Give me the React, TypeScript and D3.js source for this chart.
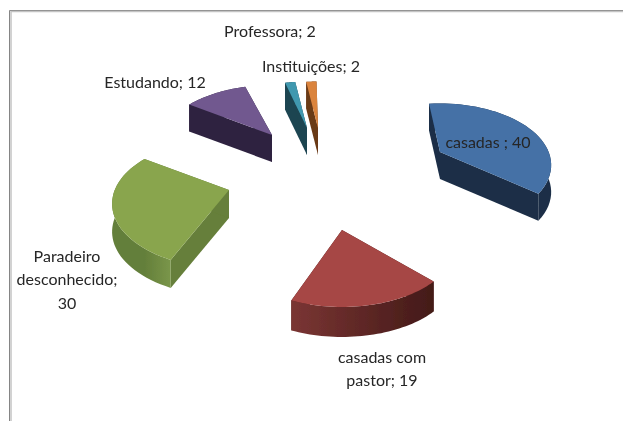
import React from "react";
import * as d3 from "d3";

const categories = ["casadas", "casadas com pastor", "Paradeiro desconhecido", "Estudando", "Professora", "Instituições"];
const values = [40, 19, 30, 12, 2, 2];
const topColors = ["#4471a6", "#a64644", "#89a54e", "#71588f", "#4198af", "#db843d"];
const sideColors = ["#1b2e47", "#4a1c1a", "#667f3a", "#2e2340", "#1c4551", "#6b3a17"];
const arcStops = [
  ["#1b2e47", "#1b2e47"],
  ["#7a3533", "#431a18"],
  ["#647f3a", "#7a964a"],
  ["#2e2340", "#2e2340"],
  ["#1c4551", "#1c4551"],
  ["#6b3a17", "#6b3a17"],
];
const explodeX = [120, 22, -91, -48, -13, -2];
const explodeY = [-13, 65, 25, -30, -37, -37];
const startNudge = [-6, 0, 3, 0, 0, 0];
const endNudge = [-8, 0, 0, -2, 0, 0];
const radiusScale = [0.97, 1, 1.02, 1, 0.93, 0.93];
const depths = [27, 30, 28, 27, 27, 27];
const labelLines = [["casadas ; 40"], ["casadas com", "pastor; 19"], ["Paradeiro", "desconhecido;", "30"], ["Estudando; 12"], ["Professora; 2"], ["Instituições; 2"]];
const labelX = [488, 382, 67, 155, 270, 311];
const labelY = [142, 357, 256, 82, 31, 66];

const W = 623, H = 421;
const cx = 320, cy = 165;
const R = 112, K = 60.6, P = 0.2126;
const startAngle = (-1 * Math.PI) / 180;
const rad = Math.PI / 180;

type Pt = [number, number];
const project = (a: number, k = 1): Pt => {
  const u = Math.sin(a), v = -Math.cos(a);
  const s = 1 / (1 - P * v);
  return [k * R * u * s, k * K * v * s];
};

export default function App() {
  const pie = d3.pie<number>().sort(null).startAngle(startAngle).endAngle(startAngle + 2 * Math.PI);
  const arcs = pie(values);
  const line = d3.line<Pt>();
  const order = [3, 4, 5, 0, 2, 1];
  return (
    <svg width={W} height={H} style={{ position: "fixed", left: 0, top: 0, background: "#fff" }}>
      <defs>
        <filter id="soft" x="-5%" y="-5%" width="110%" height="110%">
          <feGaussianBlur stdDeviation="0.45" />
        </filter>
        {arcs.map((d, i) => {
          const a = project(d.startAngle + startNudge[i] * rad, radiusScale[i]);
          const b = project(d.endAngle + endNudge[i] * rad, radiusScale[i]);
          const x0 = Math.min(a[0], b[0]) + cx + explodeX[i];
          const x1 = Math.max(a[0], b[0]) + cx + explodeX[i];
          return (
            <linearGradient key={i} id={`g${i}`} gradientUnits="userSpaceOnUse" x1={x0} x2={x1} y1={0} y2={0}>
              <stop offset="0" stopColor={arcStops[i][0]} />
              <stop offset="1" stopColor={arcStops[i][1]} />
            </linearGradient>
          );
        })}
      </defs>
      <path d={`M9.5,${H}V10.5H${W}`} fill="none" stroke="#858585" strokeWidth={1} />
      <path d={`M11,${H}V11.5H${W}`} fill="none" stroke="#c4c4c4" strokeWidth={1.5} />
      <g filter="url(#soft)">
        {order.map((i) => {
          const d = arcs[i];
          const ox = cx + explodeX[i], oy = cy + explodeY[i];
          const a0 = d.startAngle + startNudge[i] * rad;
          const a1 = d.endAngle + endNudge[i] * rad;
          const rim: Pt[] = d3.range(0, 41).map((t) => {
            const p = project(a0 + ((a1 - a0) * t) / 40, radiusScale[i]);
            return [ox + p[0], oy + p[1]];
          });
          const apex: Pt = [ox, oy];
          const down = (p: Pt): Pt => [p[0], p[1] + depths[i]];
          const first = rim[0], last = rim[rim.length - 1];
          const wall1 = line([apex, first, down(first), down(apex)]) + "Z";
          const wall2 = line([apex, last, down(last), down(apex)]) + "Z";
          const rimWall = line([...rim, ...rim.slice().reverse().map(down)]) + "Z";
          const top = line([apex, ...rim]) + "Z";
          return (
            <g key={categories[i]}>
              <path d={wall1} fill={sideColors[i]} />
              <path d={wall2} fill={sideColors[i]} />
              <path d={rimWall} fill={`url(#g${i})`} />
              <path d={top} fill={topColors[i]} />
            </g>
          );
        })}
        {labelLines.map((lines, i) => (
          <text key={i} textAnchor="middle" fontFamily="Lato, 'Open Sans', sans-serif" fontSize={16} fill="#262626">
            {lines.map((t, j) => (
              <tspan key={j} x={labelX[i]} y={labelY[i] + 5.5 + j * 23.5}>{t}</tspan>
            ))}
          </text>
        ))}
      </g>
    </svg>
  );
}
